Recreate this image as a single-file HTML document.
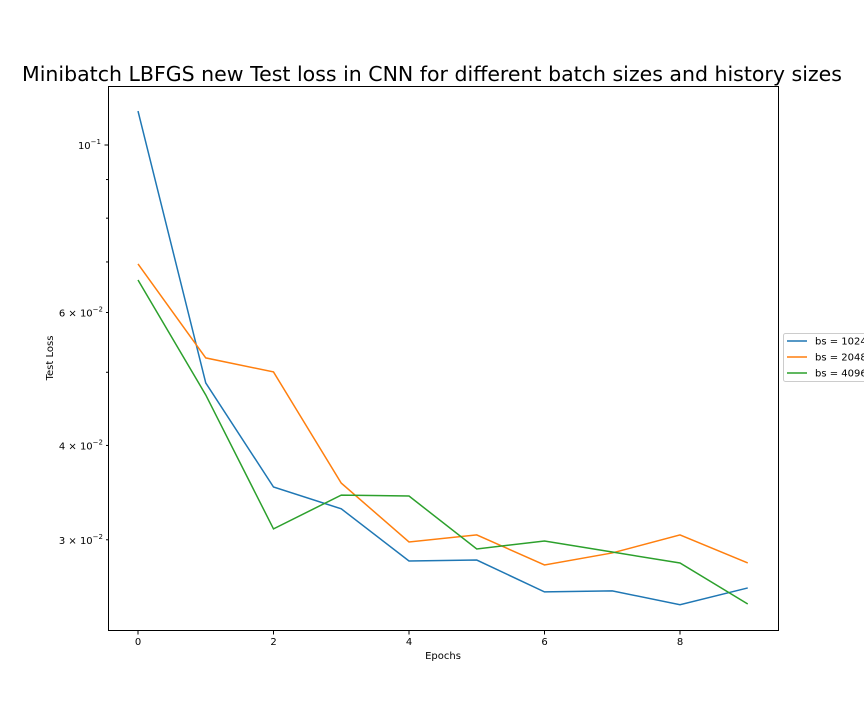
<!DOCTYPE html>
<html><head><meta charset="utf-8">
<style>
html,body{margin:0;padding:0;background:#fff;width:864px;height:720px;overflow:hidden}
svg text{font-family:"DejaVu Sans","Liberation Sans",sans-serif;fill:#000}
</style></head>
<body>
<svg id="chart" width="864" height="720" xmlns="http://www.w3.org/2000/svg">
<text x="432" y="81" font-size="20.5" text-anchor="middle">Minibatch LBFGS new Test loss in CNN for different batch sizes and history sizes</text>
<g id="grid"></g>
<g id="series"></g>
<rect x="108.5" y="86.5" width="670" height="544" fill="none" stroke="#000" stroke-width="1"/>
<g id="axes"></g>
<text x="443" y="659" font-size="10" text-anchor="middle">Epochs</text>
<text x="53" y="358" font-size="10" text-anchor="middle" transform="rotate(-90 53 358)">Test Loss</text>
<g id="legend">
<rect x="783.5" y="333.5" width="90" height="48" fill="#fff" stroke="#ccc" rx="2"/>
</g>
</svg>
<script>
const epochs=[0,1,2,3,4,5,6,7,8,9];
const bs1024=[0.1109,0.0484,0.03524,0.03297,0.02812,0.0282,0.02559,0.02567,0.02461,0.0259];
const bs2048=[0.06959,0.05224,0.05005,0.03566,0.0298,0.03045,0.02778,0.02882,0.03045,0.02795];
const bs4096=[0.06626,0.04666,0.03101,0.03438,0.03428,0.02917,0.02989,0.0289,0.02795,0.02466];
const seriesNames=["bs = 1024","bs = 2048","bs = 4096"];
const colors=["#1f77b4","#ff7f0e","#2ca02c"];
const xTicks=[0,2,4,6,8];
const yMajor=[0.1];
const yLabeled=[[0.06,"6"],[0.04,"4"],[0.03,"3"]];
const yMinor=[0.03,0.04,0.05,0.06,0.07,0.08,0.09];

const NS="http://www.w3.org/2000/svg";
const X=v=>138+v*67.75;
const Y=v=>145-(Math.log10(v)+1)*755;
function mk(tag,attrs,parent){const e=document.createElementNS(NS,tag);for(const k in attrs)e.setAttribute(k,attrs[k]);parent.appendChild(e);return e;}
const axes=document.getElementById('axes'),ser=document.getElementById('series'),leg=document.getElementById('legend');

xTicks.forEach(t=>{
 const l=mk('line',{x1:X(t),x2:X(t),y1:631,y2:634.5,stroke:'#000'},axes);
 
 
 const tx=mk('text',{x:X(t),y:645,'font-size':10,'text-anchor':'middle'},axes);
 tx.textContent=t;
 
 
});
yMajor.forEach(v=>{
 const l=mk('line',{x1:104.5,x2:108,y1:Y(v),y2:Y(v),stroke:'#000'},axes);
 
 
 const tx=mk('text',{x:101,y:Y(v)+4,'font-size':10,'text-anchor':'end'},axes);
 tx.innerHTML='10<tspan dy="-5" font-size="7">\u22121</tspan>';
 
 
});
yMinor.forEach(v=>{
 const l=mk('line',{x1:106,x2:108,y1:Y(v),y2:Y(v),stroke:'#000'},axes);
 
 
});
yLabeled.forEach(([v,m])=>{
 const tx=mk('text',{x:103,y:Y(v)+4,'font-size':10,'text-anchor':'end'},axes);
 tx.innerHTML=m+' \u00d7 10<tspan dy="-5" font-size="7">\u22122</tspan>';
 
 
});
[bs1024,bs2048,bs4096].forEach((d,i)=>{
 const p=mk('polyline',{points:d.map((v,j)=>X(epochs[j])+','+Y(v)).join(' '),fill:'none',stroke:colors[i],'stroke-width':1.5},ser);
 
 
 const yy=341+i*16;
 const ll=mk('line',{x1:787,x2:807,y1:yy,y2:yy,stroke:colors[i],'stroke-width':1.5},leg);
 
 
 const lt=mk('text',{x:815,y:yy+3.5,'font-size':10},leg);
 lt.textContent=seriesNames[i];
 
 
});
</script>
</body></html>
